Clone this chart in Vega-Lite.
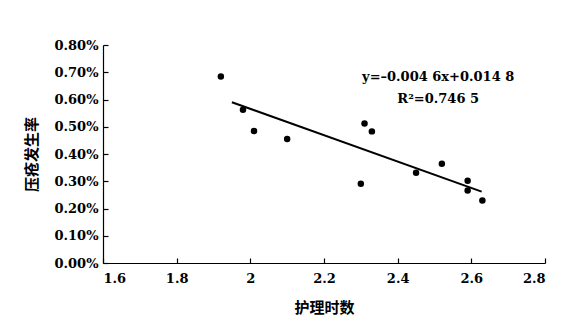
{
  "$schema": "https://vega.github.io/schema/vega-lite/v6.json",
  "width": 442,
  "height": 218,
  "autosize": "none",
  "padding": {"left": 103, "top": 45, "right": 35, "bottom": 63},
  "background": "white",
  "config": {
    "view": {"stroke": null},
    "axis": {
      "grid": false,
      "domainColor": "black",
      "domainWidth": 1.2,
      "tickColor": "black",
      "tickWidth": 1.2,
      "tickSize": -5,
      "labelFont": "DejaVu Serif",
      "labelFontWeight": "bold",
      "labelFontSize": 13,
      "labelColor": "black",
      "titleFont": "Noto Sans CJK SC",
      "titleFontWeight": "bold",
      "titleFontSize": 15,
      "titleColor": "black"
    }
  },
  "datasets": {
    "pts": [
      {"x": 1.92, "y": 0.00684},
      {"x": 1.98, "y": 0.00562},
      {"x": 2.01, "y": 0.00484},
      {"x": 2.10, "y": 0.00455},
      {"x": 2.31, "y": 0.00512},
      {"x": 2.33, "y": 0.00483},
      {"x": 2.30, "y": 0.00291},
      {"x": 2.45, "y": 0.00331},
      {"x": 2.52, "y": 0.00364},
      {"x": 2.59, "y": 0.00302},
      {"x": 2.59, "y": 0.00266},
      {"x": 2.63, "y": 0.00229}
    ],
    "fit": [
      {"x": 1.95, "y": 0.00590},
      {"x": 2.628, "y": 0.00262}
    ],
    "notes": [
      {"x": 2.51, "y": 0.00683, "t": "y=–0.004 6x+0.014 8"},
      {"x": 2.51, "y": 0.00602, "t": "R²=0.746 5"}
    ]
  },
  "encoding": {
    "x": {
      "field": "x", "type": "quantitative",
      "scale": {"domain": [1.6, 2.8], "nice": false, "zero": false},
      "axis": {"values": [1.6, 1.8, 2, 2.2, 2.4, 2.6, 2.8], "format": "~g", "title": "护理时数", "labelPadding": 14, "titleAnchor": "middle", "titlePadding": 15}
    },
    "y": {
      "field": "y", "type": "quantitative",
      "scale": {"domain": [0, 0.008], "nice": false},
      "axis": {"values": [0, 0.001, 0.002, 0.003, 0.004, 0.005, 0.006, 0.007, 0.008], "format": ".2%", "title": "压疮发生率", "labelPadding": 10, "titlePadding": 14}
    }
  },
  "layer": [
    {"data": {"name": "fit"}, "mark": {"type": "line", "color": "black", "strokeWidth": 2}},
    {"data": {"name": "pts"}, "mark": {"type": "circle", "color": "black", "opacity": 1, "size": 42}},
    {"data": {"name": "notes"}, "mark": {"type": "text", "font": "DejaVu Serif", "fontWeight": "bold", "fontSize": 13, "color": "black", "align": "center", "baseline": "middle"}, "encoding": {"text": {"field": "t"}}}
  ]
}
